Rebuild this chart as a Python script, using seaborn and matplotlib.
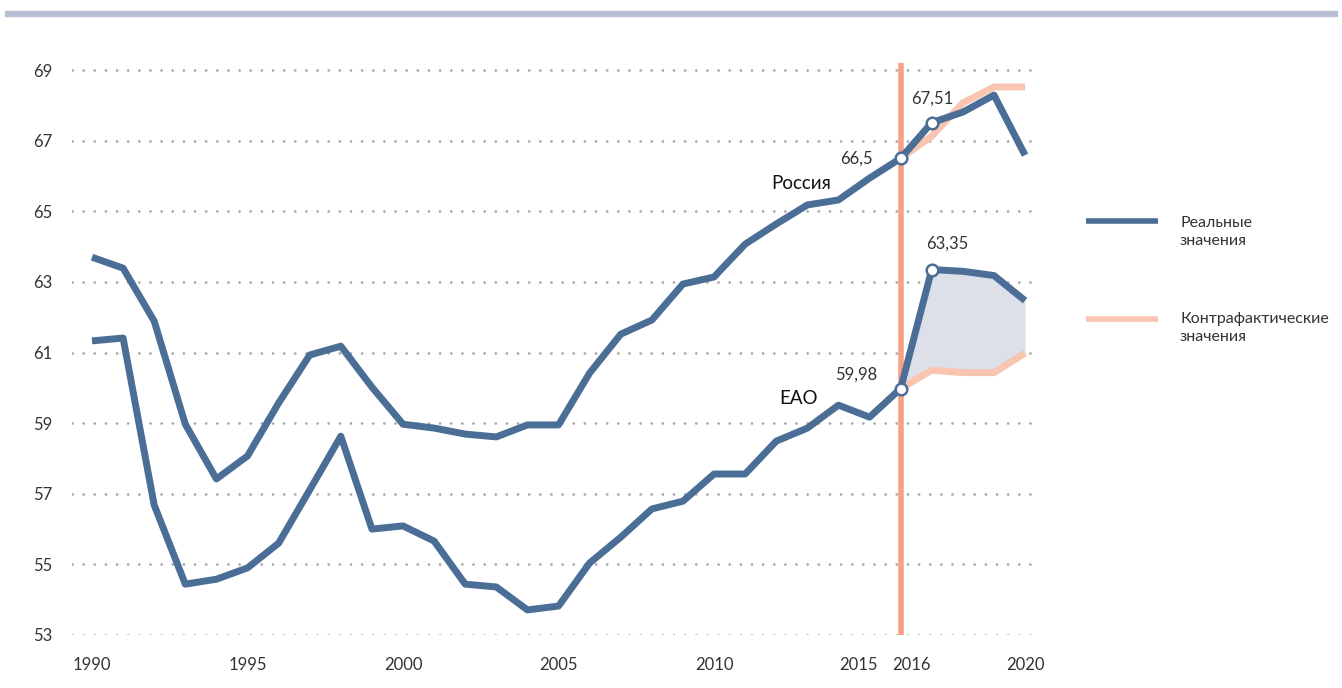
import matplotlib
matplotlib.use("Agg")
import matplotlib.pyplot as plt
import matplotlib.transforms as mtrans
from matplotlib.lines import Line2D
import seaborn as sns
import pandas as pd

years = list(range(1990, 2021))
russia = [63.70, 63.39, 61.89, 58.97, 57.42, 58.07, 59.57, 60.93, 61.18, 60.02,
          58.97, 58.86, 58.69, 58.61, 58.95, 58.95, 60.42, 61.52, 61.92, 62.94,
          63.14, 64.07, 64.64, 65.18, 65.32, 65.94, 66.50, 67.51, 67.81, 68.29, 66.59]
eao = [61.33, 61.41, 56.68, 54.44, 54.58, 54.90, 55.60, 57.11, 58.63, 56.00,
       56.09, 55.66, 54.44, 54.36, 53.71, 53.82, 55.04, 55.77, 56.57, 56.79,
       57.56, 57.56, 58.49, 58.86, 59.51, 59.17, 59.98, 63.35, 63.30, 63.18, 62.47]
cf_years = [2016, 2017, 2018, 2019, 2020]
russia_cf = [66.50, 67.13, 68.07, 68.52, 68.52]
eao_cf = [59.98, 60.50, 60.43, 60.43, 60.98]
marked_years = [2016, 2017]
russia_labels = ["66,5", "67,51"]
eao_labels = ["59,98", "63,35"]
xticks = [1990, 1995, 2000, 2005, 2010, 2015, 2016, 2020]
yticks = [53, 55, 57, 59, 61, 63, 65, 67, 69]

BLUE = "#4b6e97"
PEACH = "#f9c5b0"
ORANGE = "#f7a083"
FILL = "#dde0e8"
GRID = "#a8a8a8"
TXT = "#333333"

sns.set_theme(style="white")
plt.rcParams["font.family"] = ["Lato", "DejaVu Sans"]

fig = plt.figure(figsize=(13.42, 6.88), dpi=100)
W, H = 1342, 688
ax = fig.add_axes([72 / W, 1 - 635 / H, (1040 - 72) / W, (635 - 63) / H])

# top decorative bar
fig.patches.append(plt.Rectangle((5 / W, 1 - 16 / H), 1332 / W, 5 / H,
                                 transform=fig.transFigure, color="#b8bfd2", zorder=0))

df_real = pd.DataFrame({"year": years, "Россия": russia, "ЕАО": eao})
df_cf = pd.DataFrame({"year": cf_years, "Россия": russia_cf, "ЕАО": eao_cf})

# gridlines
for yv in yticks:
    ax.axhline(yv, color=GRID, lw=2.0, linestyle=(0, (0.01, 4.0)),
               dash_capstyle="round", zorder=0)

# fill between EAO real and counterfactual
eao_real_cf = [eao[years.index(y)] for y in cf_years]
ax.fill_between(cf_years, eao_cf, eao_real_cf, color=FILL, lw=0, zorder=1)

# vertical line 2016
ax.axvline(2016, color=ORANGE, lw=4, zorder=2)

# counterfactual lines
sns.lineplot(data=df_cf, x="year", y="Россия", ax=ax, color=PEACH, lw=5,
             zorder=3, solid_capstyle="butt")
sns.lineplot(data=df_cf, x="year", y="ЕАО", ax=ax, color=PEACH, lw=5,
             zorder=3, solid_capstyle="butt")

# real lines
sns.lineplot(data=df_real, x="year", y="Россия", ax=ax, color=BLUE, lw=5,
             zorder=4, solid_capstyle="butt")
sns.lineplot(data=df_real, x="year", y="ЕАО", ax=ax, color=BLUE, lw=5,
             zorder=4, solid_capstyle="butt")

# markers
mk_r = [russia[years.index(y)] for y in marked_years]
mk_e = [eao[years.index(y)] for y in marked_years]
ax.scatter(marked_years, mk_r, s=70, facecolor="white", edgecolor=BLUE, lw=1.8, zorder=5)
ax.scatter(marked_years, mk_e, s=70, facecolor="white", edgecolor=BLUE, lw=1.8, zorder=5)

# value labels
fs = 12
ax.annotate(russia_labels[0], (2016, mk_r[0]), xytext=(-20, 0), textcoords="offset points",
            ha="right", va="center", fontsize=fs, color=TXT)
ax.annotate(russia_labels[1], (2017, mk_r[1]), xytext=(0, 17), textcoords="offset points",
            ha="center", va="center", fontsize=fs, color=TXT)
ax.annotate(eao_labels[0], (2016, mk_e[0]), xytext=(-17, 10), textcoords="offset points",
            ha="right", va="center", fontsize=fs, color=TXT)
ax.annotate(eao_labels[1], (2017, mk_e[1]), xytext=(11, 19), textcoords="offset points",
            ha="center", va="center", fontsize=fs, color=TXT)

# series names
ax.text(2013.75, 65.8, "Россия", fontsize=13.5, color="#111111", ha="right", va="center")
ax.text(2013.35, 59.7, "ЕАО", fontsize=13.5, color="#111111", ha="right", va="center")

ax.set_xlim(1989.357, 2020.48)
ax.set_ylim(53, 69.2)
ax.set_yticks(yticks)
ax.set_yticklabels([str(v) for v in yticks], fontsize=12, color=TXT)
ax.set_xticks(xticks)
ax.set_xticklabels([str(v) for v in xticks], fontsize=12, color=TXT)
ax.tick_params(axis="x", pad=16, length=0)
ax.tick_params(axis="y", pad=14, length=0)
ax.set_xlabel("")
ax.set_ylabel("")
for s in ax.spines.values():
    s.set_visible(False)

# shift 2015/2016 labels apart
for lab in ax.get_xticklabels():
    if lab.get_text() == "2015":
        lab.set_transform(lab.get_transform() + mtrans.ScaledTranslation(-8 / 72, 0, fig.dpi_scale_trans))
    if lab.get_text() == "2016":
        lab.set_transform(lab.get_transform() + mtrans.ScaledTranslation(8 / 72, 0, fig.dpi_scale_trans))

# legend
fig.add_artist(Line2D([1086 / W, 1158 / W], [1 - 221 / H] * 2, color=BLUE, lw=4,
                      transform=fig.transFigure, solid_capstyle="butt"))
fig.add_artist(Line2D([1086 / W, 1158 / W], [1 - 319 / H] * 2, color=PEACH, lw=4,
                      transform=fig.transFigure, solid_capstyle="butt"))
fig.text(1180 / W, 1 - 232 / H, "Реальные\nзначения", fontsize=11.5, color=TXT,
         va="center", ha="left", linespacing=1.3)
fig.text(1180 / W, 1 - 328 / H, "Контрафактические\nзначения", fontsize=11.5, color=TXT,
         va="center", ha="left", linespacing=1.3)

fig.savefig("out.png", dpi=100)
